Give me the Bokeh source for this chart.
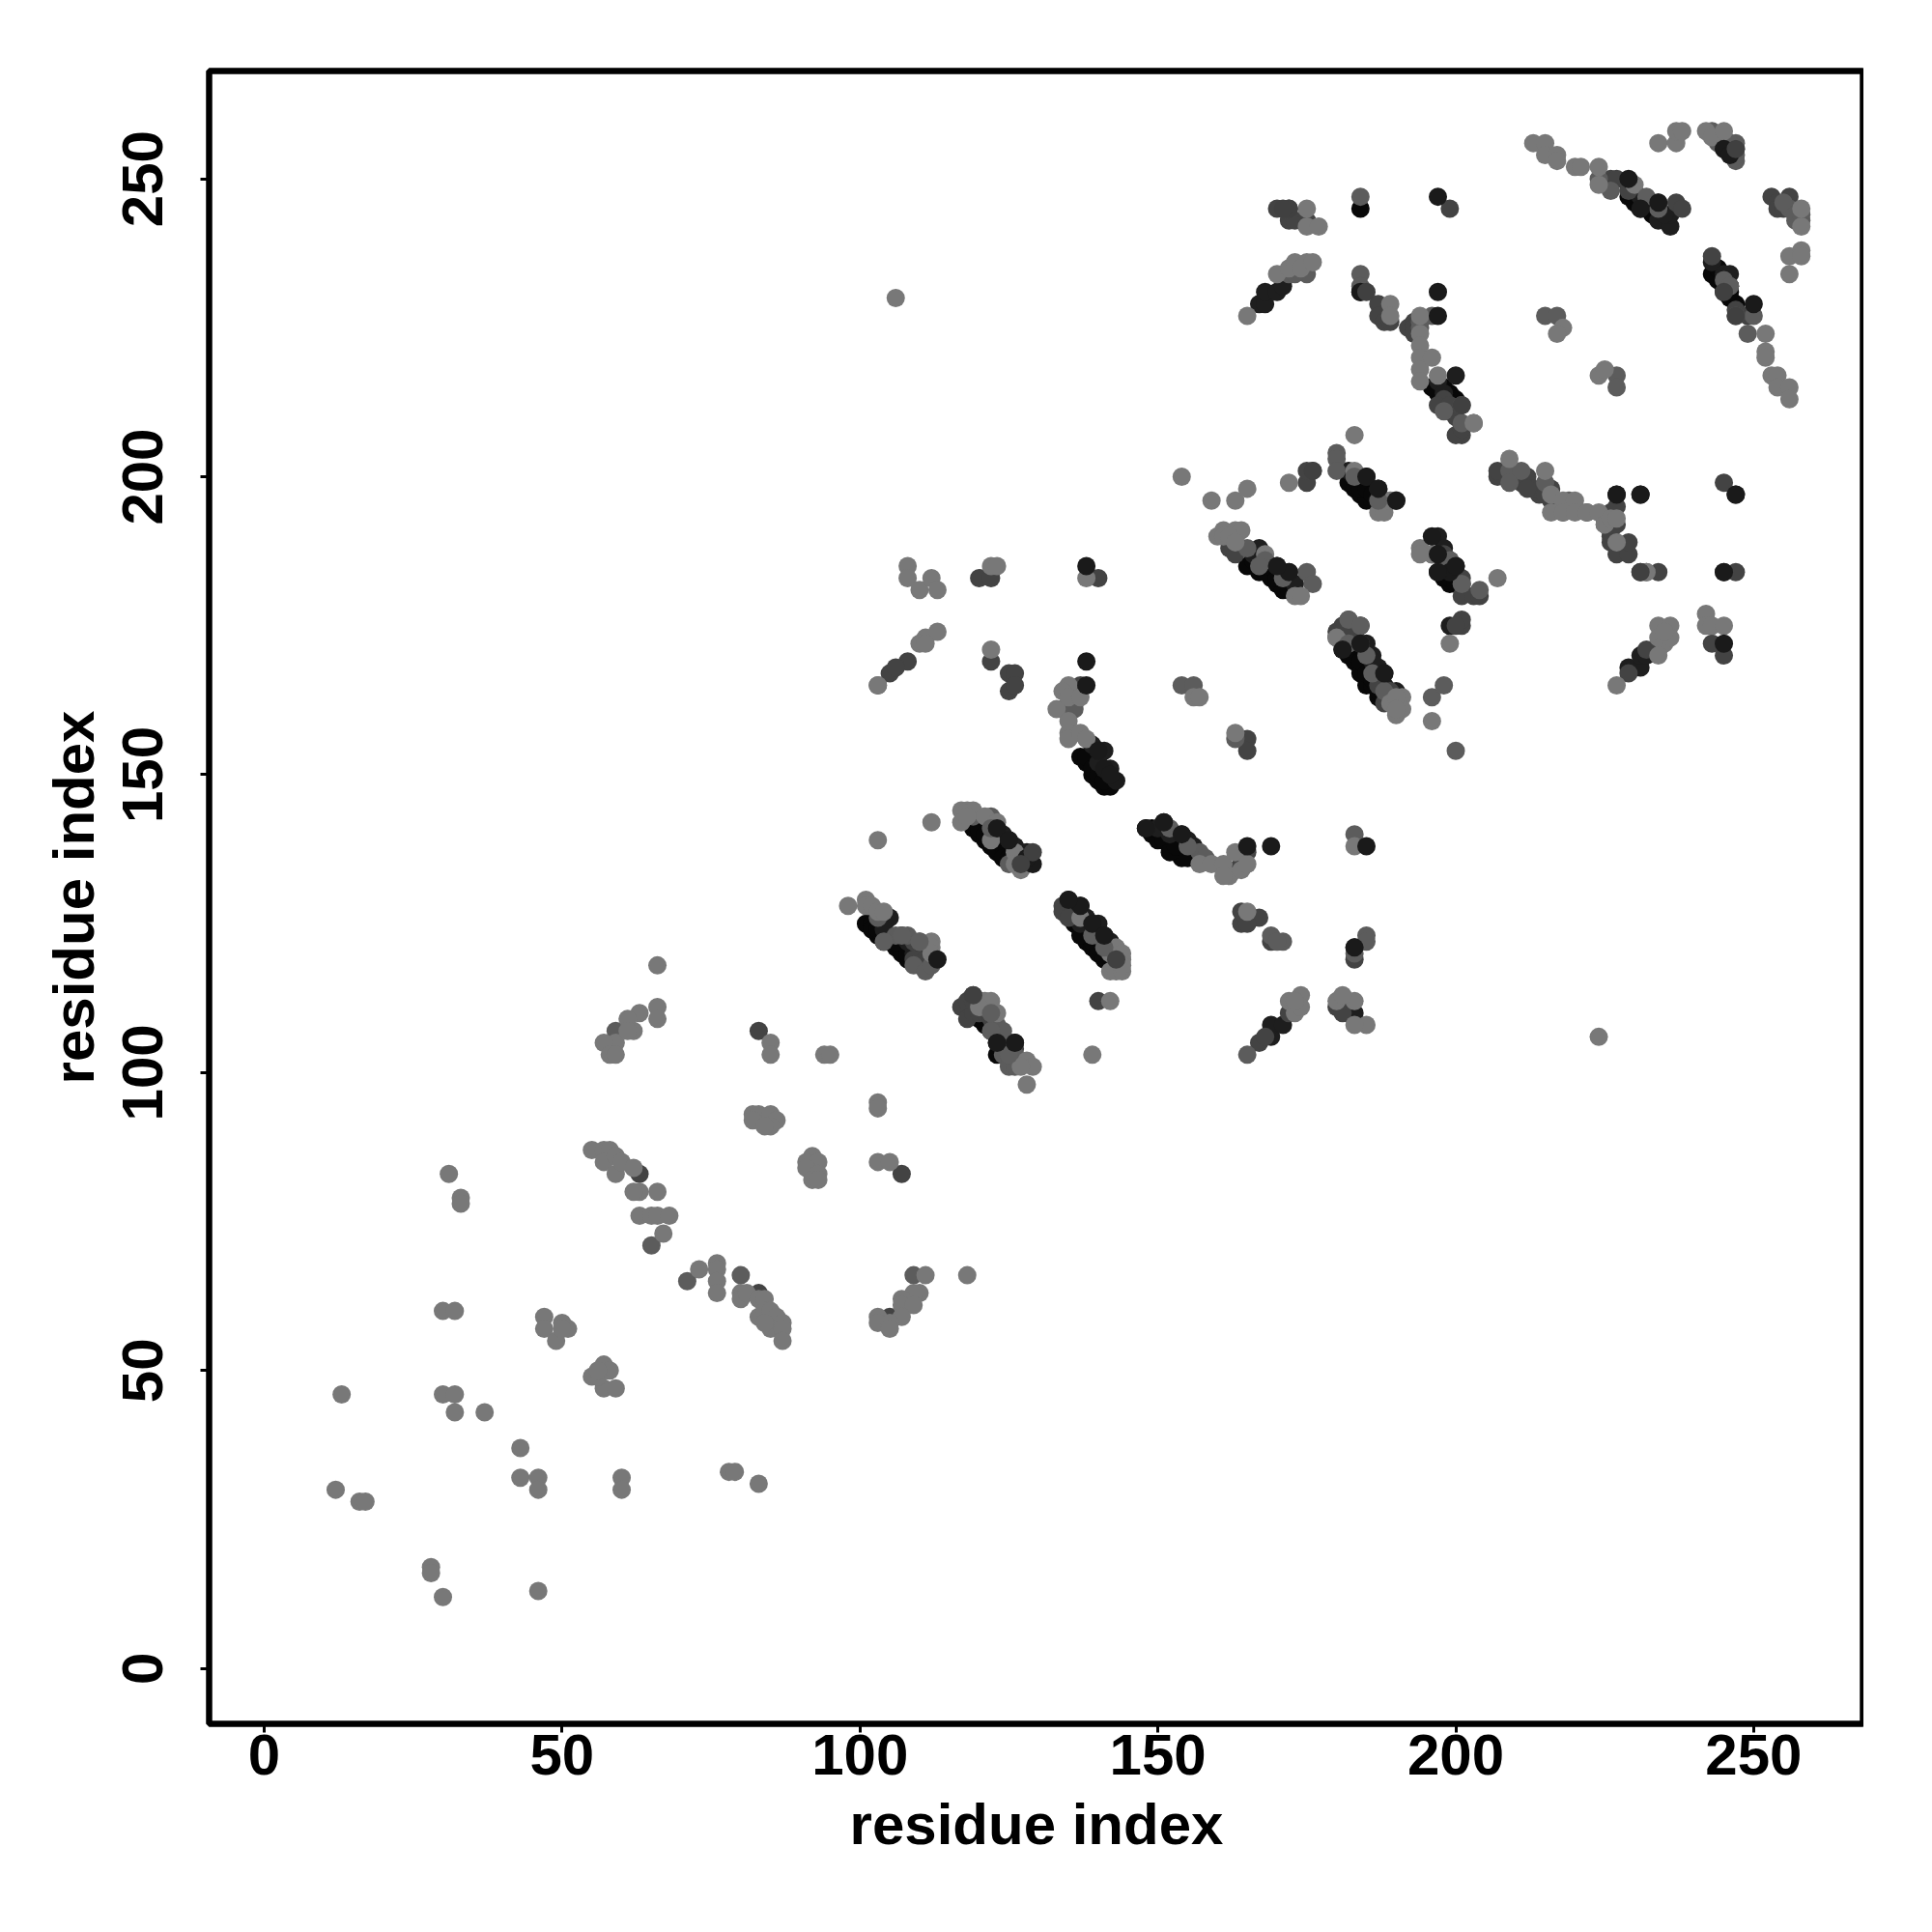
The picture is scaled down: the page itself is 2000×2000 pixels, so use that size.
from bokeh.plotting import figure
from bokeh.models import FixedTicker, Range1d, ColumnDataSource
from bokeh.embed import file_html
from bokeh.resources import INLINE

axis_title = "residue index"
tick_values = [0, 50, 100, 150, 200, 250]

# residue pairs grouped by the grey level they carry; drawn in this order
black_pairs = [(101,125),(103,123),(104,122),(106,121),(107,120),(108,119),(107,122),
 (102,125),(102,124),(103,124),(105,122),(106,122),(108,120),(109,119),(110,118),(110,119),(111,118),
 (119,141),(120,140),(121,139),(122,138),(123,137),(124,138),(120,141),(121,140),(122,139),(124,136),(125,136),(126,136),
 (120,109),(121,108),(122,107),(123,103),(123,105),(122,108),(123,106),(124,104),(125,102),(126,102),
 (136,125),(137,124),(138,122),(139,121),(140,120),(138,123),(139,122),(142,119),(136,126),(137,123),(140,121),(141,119),
 (148,141),(149,140),(150,139),(152,138),(153,137),(151,139),(154,136),(155,137),(149,141),(152,137),(153,138),(155,136),
 (137,153),(138,152),(139,150),(140,149),(141,148),(142,148),(139,153),(138,153),(139,151),(140,150),(141,149),
 (165,185),(167,184),(169,183),(170,182),(171,181),(168,184),(166,186),(168,185),(170,183),(172,181),
 (181,171),(182,170),(183,169),(184,167),(185,165),(186,165),(187,163),(183,172),(184,171),(185,168),(182,172),(183,171),(184,169),(185,167),(186,166),(187,164),
 (182,199),(183,198),(184,197),(185,196),(186,196),(183,200),(184,198),(185,198),(186,197),
 (197,184),(198,183),(199,182),(198,185),(199,184),(198,184),(199,183),(200,182),
 (198,215),(199,214),(200,213),(197,214),(196,215),
 (229,247),(230,247),(231,245),(232,245),(233,246),(229,248),(230,246),(232,246),(233,244),
 (243,234),(244,233),(245,232),(245,231),(246,230),(247,229),(244,235),(245,233),(246,232),(246,231),(184,245),(184,231)]

near_pairs = [(105,126),(105,123),(109,120),(122,141),(123,141),(125,139),(128,137),
 (104,125),(107,123),(108,122),(110,121),(111,120),(104,124),(124,140),(126,138),(127,136),(127,137),
 (126,105),(125,105),(124,105),(135,129),(137,128),(137,125),(139,125),(140,125),(141,123),(135,128),(136,128),(138,126),(140,123),(142,122),
 (151,142),(154,140),(156,138),(140,154),(141,154),(141,151),(142,151),(150,141),(152,140),(155,139),(139,155),(140,152),
 (167,188),(170,185),(172,184),(182,201),(185,200),(187,198),(190,196),(166,187),(168,186),(171,183),(173,182),
 (184,175),(186,170),(187,168),(188,167),(190,164),(197,190),(197,187),(200,185),(201,182),(183,174),(185,172),(186,169),(188,165),
 (167,229),(168,229),(168,231),(170,231),(171,232),(227,197),(231,197),(247,197),
 (229,168),(231,168),(231,170),(232,170),(169,106),(169,108),(171,108),
 (183,110),(183,109),(231,247),(229,249),(234,243),(236,242),(236,244),(235,244),(234,245),
 (243,236),(245,234),(246,234),(199,175),(200,217),(183,121),(197,216),(198,214),(198,188),(199,186)]

dark_pairs = [(109,122),(110,119),(117,111),(118,109),(119,113),(118,112),(119,110),(120,112),
 (119,112),(120,110),(121,110),(122,109),(123,107),(124,106),(125,103),(126,104),(127,102),(109,119),(111,119),(112,119),
 (134,128),(134,127),(135,126),(162,134),(163,134),(164,136),(137,165),(162,188),(164,188),(163,187),
 (180,174),(182,176),(180,173),(181,175),(184,172),(187,165),(189,164),(188,162),(189,163),(181,174),(182,174),
 (196,187),(198,187),(201,183),(201,180),(203,180),(204,180),(201,175),(201,176),(200,175),
 (172,245),(172,243),(173,243),(176,201),(175,199),(175,201),
 (187,229),(187,227),(188,226),(189,226),(192,225),(193,226),(193,225),(193,224),
 (209,200),(207,200),(207,201),(211,199),(212,200),(214,197),(216,196),(216,198),(213,198),(212,198),(215,197),
 (226,190),(226,189),(227,187),(229,187),(231,184),(229,189),
 (199,211),(200,210),(201,207),(200,207),(201,208),(198,213),(197,212),(199,212),
 (226,250),(227,250),(229,248),(234,246),(237,246),(238,245),
 (243,237),(246,232),(247,228),(249,227),(253,247),(254,246),(256,247),(254,245),(255,245),
 (225,193),(226,194),(227,192),(222,194),(227,195),(234,184),(245,170),(243,172),(245,184),(247,184),
 (229,167),(234,171),(232,171),(172,110),(167,105),(168,106),(180,111),(181,110),(181,112),
 (164,125),(164,127),(167,126),(169,122),(165,125),(83,107),(107,83),(63,83),(83,63),(105,59),
 (140,112),(122,169),(125,167),(126,167),(125,164),(126,165),(120,183),(122,183),(140,183),(105,167),
 (108,169),(106,168),(165,156),(165,154),(245,199),(199,245),(170,245),(165,137),(175,243),(183,119)]

mid_pairs = [(103,126),(106,123),(108,123),(110,122),(109,118),(111,117),(112,118),
 (119,143),(122,143),(125,135),(122,110),(123,108),(124,107),(124,103),(125,101),(126,101),(126,103),
 (157,137),(158,136),(134,161),(135,161),(136,161),(165,188),(175,184),(176,182),
 (180,204),(180,203),(180,201),(209,201),(209,199),(211,201),(215,199),
 (59,107),(71,65),(65,71),(80,66),(109,66),(194,226),(194,225),(196,227),
 (184,247),(184,234),(175,234),(172,234),(173,234),(215,227),(217,227),(224,250),(226,248),
 (247,256),(246,255),(245,256),(247,253),(258,243),(247,227),(250,227),(249,224),
 (256,245),(257,243),(227,217),(227,215),(154,165),(156,165),(163,156),(169,123),(171,122),(170,122),
 (185,123),(185,122),(183,120),(183,140),(196,163),(198,165),(200,154),(184,232),(103,165),(165,103),
 (219,196),(218,194),(225,192),(198,211),(201,212),(203,209),(204,181),(201,209),(232,184),(188,164),(190,162),
 (244,256),(245,257),(246,256),(243,258),(244,257),(247,254),(255,246),(257,244),(258,244)]

light_pairs = [(13,46),(12,30),(16,28),(17,28),(28,17),(28,16),(30,12),(46,13),(31,83),(33,79),(33,78),
 (30,60),(32,60),(30,46),(32,46),(32,43),(37,43),(43,37),(43,32),(46,32),(46,30),(60,32),(60,30),
 (78,33),(79,33),(83,31),(47,59),(47,57),(49,55),(50,58),(51,57),(50,57),(55,49),(57,51),(58,50),
 (57,47),(59,47),(56,49),(56,50),(66,118),(66,111),(66,109),(63,110),(61,109),(62,107),(59,105),
 (57,105),(58,103),(59,103),(61,107),(85,105),(85,103),(94,103),(95,103),(82,93),(83,93),(85,93),
 (86,92),(82,92),(85,91),(84,91),(103,95),(103,94),(92,86),(91,85),(93,85),(91,84),(93,83),(92,82),
 (93,82),(103,85),(105,85),(55,87),(57,87),(58,87),(57,85),(59,86),(59,83),(60,85),(62,84),(63,80),
 (62,80),(66,80),(63,76),(65,76),(66,76),(68,76),(67,73),(73,67),(76,68),(76,67),(76,65),(76,63),
 (80,63),(80,62),(81,63),(83,62),(84,62),(83,59),(84,60),(85,60),(85,57),(86,59),(87,58),(87,57),
 (87,55),(84,58),(111,66),(118,66),(110,63),(109,63),(107,62),(107,61),(109,61),(107,59),(103,59),
 (103,58),(105,58),(105,57),(98,128),(101,129),(101,128),(102,128),(103,127),(104,127),(112,122),
 (112,121),(112,120),(117,144),(118,144),(119,144),(117,142),(118,143),(121,143),(123,142),(122,139),
 (126,137),(126,135),(127,134),(121,112),(122,112),(120,111),(123,110),(128,102),(129,101),(128,98),
 (127,101),(142,120),(143,121),(142,117),(143,117),(144,117),(144,119),(144,120),(144,118),(143,119),
 (137,126),(139,103),(142,112),(103,139),(112,142),(157,135),(159,135),(161,135),(162,133),(161,133),
 (163,137),(164,134),(165,135),(135,165),(133,161),(134,164),(135,163),(137,163),(135,159),(135,157),
 (135,156),(137,157),(138,156),(160,190),(161,191),(163,191),(164,191),(161,190),(162,190),(163,189),
 (168,187),(173,180),(174,180),(183,207),(183,201),(187,194),(188,194),(188,196),(189,196),
 (180,173),(190,160),(191,163),(191,161),(189,162),(190,163),(190,161),(154,200),
 (159,196),(163,196),(165,198),(172,199),(175,245),(175,242),(177,242),(165,227),(170,234),(172,235),
 (173,236),(175,236),(174,235),(176,236),(189,229),(189,227),(194,227),(194,224),(194,222),
 (194,220),(194,218),(194,216),(196,220),(197,217),(203,209),(106,230),(224,106),(196,159),
 (199,172),(207,183),(194,188),(196,187),(194,187),(213,256),(215,256),(215,254),(217,254),(217,253),
 (220,252),(221,252),(224,252),(224,249),(234,256),(237,256),(237,258),(238,258),(242,258),(243,257),
 (245,258),(247,255),(256,237),(258,238),(258,237),(256,234),(252,224),(252,221),(252,220),
 (253,217),(254,217),(254,215),(256,215),(256,213),(218,225),(217,224),(224,217),(225,218),(209,203),
 (215,201),(216,197),(218,196),(220,196),(216,194),(218,194),(220,194),(222,194),(224,194),(225,192),
 (226,193),(227,193),(227,189),(232,184),(227,165),(234,175),(234,173),(235,172),
 (236,175),(236,173),(235,174),(234,170),(242,177),(242,175),(243,175),(245,175),
 (258,245),(258,242),(230,249),(103,165),(108,185),(108,183),(110,181),(112,183),(113,181),
 (111,173),(113,174),(110,172),(111,172),(172,112),(173,110),(174,113),(174,111),(173,112),(183,112),
 (185,108),(183,108),(180,112),(181,113),(183,138),(165,127),(122,171),(122,185),(123,185),
 (138,183),(156,163),(157,163),(163,157)]

# mid greys that sit over the black streaks of the dense bands
overlay_pairs = [(185,170),(182,176),(184,175),(139,123),(104,122),(107,123),(110,122),
 (122,141),(183,200),(198,185),(199,186),(152,141),(155,138),(122,107),(125,103),
 (171,183),(168,186),(234,245),(232,247),(245,233),(246,232),(141,121),(186,167),(182,172),
 (167,185),(122,110),(187,196),(201,182)]

top_near_pairs = [(113,119),(129,135),(128,136),(143,149),(138,169),(138,185),(185,138),(169,138),
 (165,138),(138,165),(197,247),(197,231),(197,227),(227,197),(231,197),(245,184),
 (247,197),(250,229),(245,172),(183,121),(184,231),(196,190),(199,184),(123,105),(126,105),
 (139,125),(137,128),(135,129),(123,141),(125,139),(141,123),(172,184),(170,185),(185,200),(187,198),
 (190,196),(200,185),(197,187),(229,250),(231,245),(234,246),(197,184),(188,167),(181,171),(184,172),
 (148,141),(151,142),(154,140),(140,154),(141,151),(142,150),(245,255),(246,254)]

top_dark_pairs = [(231,184),(245,231),(247,227),(201,212),(176,201),(172,245),(185,231),(171,245),
 (129,137),(127,135),(143,119),(119,113),(247,255)]

greys = [("#080808", black_pairs), ("#1e1e1e", near_pairs), ("#434343", dark_pairs),
         ("#5c5c5c", mid_pairs), ("#787878", light_pairs), ("#5e5e5e", overlay_pairs),
         ("#1a1a1a", top_near_pairs), ("#404040", top_dark_pairs)]

p = figure(width=1984, height=1984, output_backend="svg", toolbar_location=None,
           x_range=Range1d(-9.24, 268.5), y_range=Range1d(-9.29, 268.1),
           min_border_left=216, min_border_right=0, min_border_top=73, min_border_bottom=0,
           frame_width=1713, frame_height=1711, background_fill_color="white")
p.grid.visible = False
p.outline_line_color = "black"
p.outline_line_width = 6.5

for color, pairs in greys:
    src = ColumnDataSource(dict(x=[a for a, b in pairs], y=[b for a, b in pairs]))
    p.scatter("x", "y", source=src, size=19, marker="circle", fill_color=color, line_color=None)

for ax in (p.xaxis[0], p.yaxis[0]):
    ax.ticker = FixedTicker(ticks=tick_values)
    ax.axis_line_color = None
    ax.major_tick_line_color = "black"
    ax.major_tick_line_width = 3
    ax.major_tick_out = 9
    ax.major_tick_in = 0
    ax.minor_tick_out = 0
    ax.minor_tick_in = 0
    ax.major_label_text_font = "Liberation Sans"
    ax.major_label_text_font_style = "bold"
    ax.major_label_text_font_size = "60px"
    ax.major_label_text_color = "black"
    ax.axis_label = axis_title
    ax.axis_label_text_font = "Liberation Sans"
    ax.axis_label_text_font_style = "bold"
    ax.axis_label_text_font_size = "60px"
    ax.axis_label_text_color = "black"
p.yaxis[0].major_label_orientation = "parallel"
p.xaxis[0].major_label_standoff = 2
p.yaxis[0].major_label_standoff = 39
p.xaxis[0].axis_label_standoff = 15
p.yaxis[0].axis_label_standoff = 15

open("out.html", "w").write(file_html(p, INLINE))
